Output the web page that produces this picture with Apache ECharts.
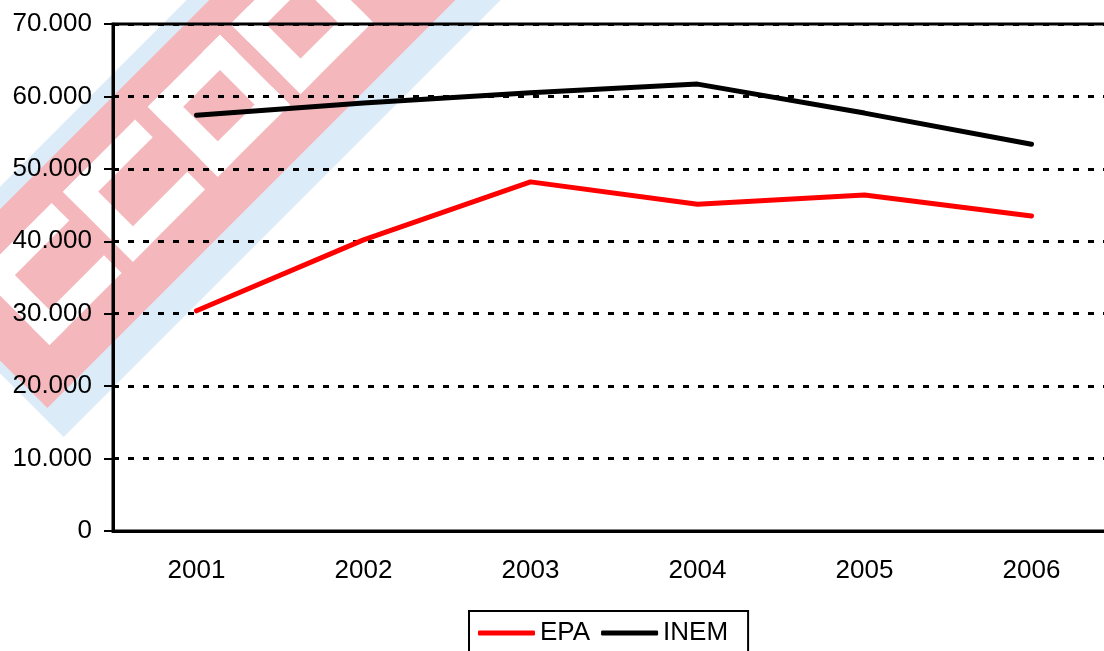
<!DOCTYPE html>
<html>
<head>
<meta charset="utf-8">
<script src="https://cdn.jsdelivr.net/npm/echarts@6/dist/echarts.min.js"></script>
<style>
  html, body { margin: 0; padding: 0; background: #fff; }
  #chart { width: 1104px; height: 651px; }
</style>
</head>
<body>
<div id="chart"></div>
<script>
// datos
const years = ['2001', '2002', '2003', '2004', '2005', '2006'];
const epa = [30400, 40200, 48200, 45100, 46400, 43500];
const inem = [57400, 59100, 60500, 61700, 57700, 53400];
const seriesNames = ['EPA', 'INEM'];

const font = 'Liberation Sans, Arial, sans-serif';

// marca de agua (banda diagonal), coordenadas locales del grupo girado 45 grados
function bar(x, y, w, h) {
  return { type: 'rect', z: -10, shape: { x: x, y: y, width: w, height: h }, style: { fill: '#ffffff' } };
}
function letterC(s0) {
  return [bar(s0, 180, 102, 25), bar(s0, 254, 102, 25), bar(s0, 180, 25, 99)];
}
function letterO(s0) {
  return [bar(s0, 180, 102, 25), bar(s0, 254, 102, 25), bar(s0, 180, 25, 99), bar(s0 + 77, 180, 25, 99)];
}
const watermark = {
  type: 'group',
  x: 0,
  y: 0,
  rotation: Math.PI / 4,
  silent: true,
  children: [
    { type: 'rect', z: -12, shape: { x: -264, y: 132, width: 900, height: 222 }, style: { fill: '#dcebf8' } },
    { type: 'rect', z: -11, shape: { x: -255, y: 148, width: 900, height: 174 }, style: { fill: '#f4b8bc' } }
  ].concat(letterC(-209), letterC(-91), letterO(29), letterO(146))
};

const chart = echarts.init(document.getElementById('chart'));

const option = {
  backgroundColor: '#fff',
  animation: false,
  graphic: [watermark],
  grid: {
    left: 113,
    top: 24,
    bottom: 120,
    width: 1002,
    outerBoundsMode: 'none',
    containLabel: false,
    show: true,
    borderColor: '#000',
    borderWidth: 3,
    backgroundColor: 'transparent'
  },
  legend: {
    data: seriesNames,
    left: 469,
    top: 611,
    padding: [9, 20, 12, 9],
    icon: 'roundRect',
    itemWidth: 57,
    itemHeight: 5,
    itemGap: 11,
    borderColor: '#000',
    borderWidth: 2,
    backgroundColor: '#fff',
    textStyle: { fontFamily: font, fontSize: 26, color: '#000' }
  },
  xAxis: {
    type: 'category',
    data: years,
    boundaryGap: true,
    axisLine: { lineStyle: { color: '#000', width: 3 } },
    axisTick: { length: 9, lineStyle: { color: '#000', width: 2 } },
    axisLabel: { margin: 27, fontFamily: font, fontSize: 26, color: '#000' },
    splitLine: { show: false }
  },
  yAxis: {
    type: 'value',
    min: 0,
    max: 70000,
    interval: 10000,
    axisLine: { show: true, lineStyle: { color: '#000', width: 3 } },
    axisTick: { show: true, length: 9, lineStyle: { color: '#000', width: 2 } },
    axisLabel: {
      margin: 21,
      fontFamily: font,
      fontSize: 26,
      color: '#000',
      formatter: function (v) {
        return String(v).replace(/\B(?=(\d{3})+(?!\d))/g, '.');
      }
    },
    splitLine: { show: true, lineStyle: { color: '#000', width: 3, type: [6, 9] } }
  },
  series: [
    {
      name: 'EPA',
      type: 'line',
      data: epa,
      symbol: 'none',
      lineStyle: { color: '#ff0000', width: 5, cap: 'round' },
      itemStyle: { color: '#ff0000' }
    },
    {
      name: 'INEM',
      type: 'line',
      data: inem,
      symbol: 'none',
      lineStyle: { color: '#000000', width: 5, cap: 'round' },
      itemStyle: { color: '#000000' }
    }
  ]
};

chart.setOption(option);
</script>
</body>
</html>
